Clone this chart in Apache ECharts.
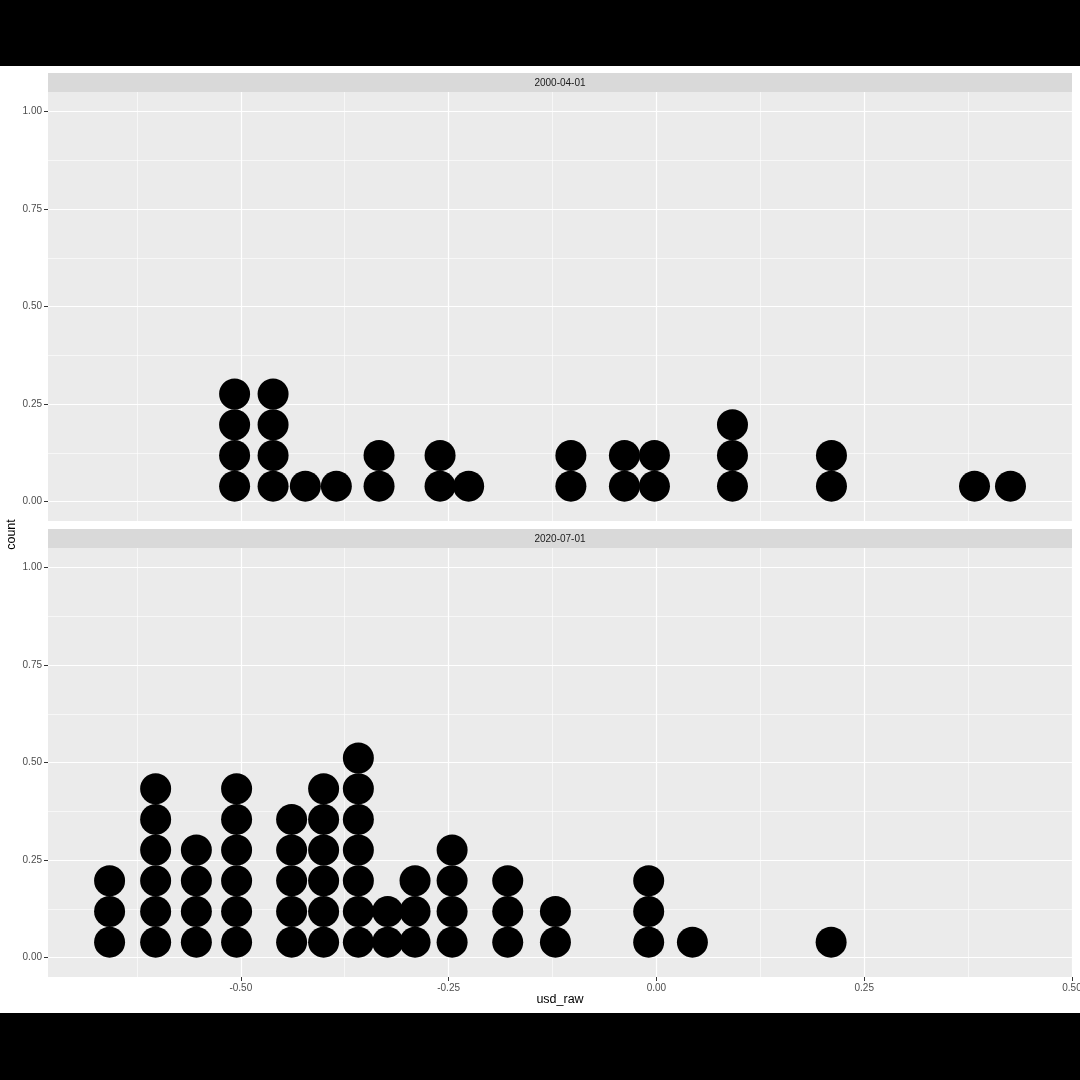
<!DOCTYPE html>
<html>
<head>
<meta charset="utf-8">
<script src="https://cdn.jsdelivr.net/npm/echarts@6/dist/echarts.min.js"></script>
<style>
  html, body { margin: 0; padding: 0; background: #ffffff; }
  #main { width: 1080px; height: 1080px; }
</style>
</head>
<body>
<div id="main"></div>
<script>
// facets
const panels = ['2000-04-01', '2020-07-01'];

// dot columns (bin centre on usd_raw) and how many dots sit in each
const bins2000 = [-0.5075, -0.4612, -0.4224, -0.3851, -0.3337, -0.2603, -0.2259,
                  -0.1029, -0.0385, -0.0024, 0.0915, 0.2106, 0.3827, 0.4260];
const counts2000 = [4, 4, 1, 1, 2, 2, 1, 2, 2, 2, 3, 2, 1, 1];

const bins2020 = [-0.6579, -0.6025, -0.5535, -0.5051, -0.4389, -0.4004, -0.3586, -0.3233,
                  -0.2904, -0.2458, -0.1789, -0.1215, -0.0093, 0.0433, 0.2102];
const counts2020 = [3, 6, 4, 6, 5, 6, 7, 2, 3, 4, 3, 2, 3, 1, 1];

// axis breaks
const xMajor = [-0.5, -0.25, 0, 0.25, 0.5];
const xMinor = [-0.625, -0.375, -0.125, 0.125, 0.375];
const yMajor = [0, 0.25, 0.5, 0.75, 1];
const yMinor = [0.125, 0.375, 0.625, 0.875];

const xRange = [-0.732, 0.5];
const yRange = [-0.05, 1.05];
const dotStep = 0.0787; // height of one stacked dot, in count units
const FONT = 'Liberation Sans, Arial, Helvetica, sans-serif';

function stackDots(bins, counts) {
  const out = [];
  bins.forEach(function (x, i) {
    for (let k = 0; k < counts[i]; k++) out.push([x, (k + 0.5) * dotStep]);
  });
  return out;
}

const chart = echarts.init(document.getElementById('main'), null, { renderer: 'canvas' });

const gridTops = [92, 548];
const grids = gridTops.map(function (t) {
  return { left: 48, top: t, width: 1024, height: 429, show: true,
           containLabel: false, outerBoundsMode: 'none',
           backgroundColor: '#ebebeb', borderWidth: 0 };
});

const xAxes = [], yAxes = [];
gridTops.forEach(function (t, g) {
  const isBottom = g === gridTops.length - 1;
  xAxes.push({
    type: 'value', gridIndex: g, min: xRange[0], max: xRange[1], position: 'bottom',
    axisLine: { show: false, onZero: false },
    axisTick: { show: isBottom, length: 4, customValues: xMajor,
                lineStyle: { color: '#333333', width: 1 } },
    axisLabel: { show: isBottom, customValues: xMajor, margin: 6,
                 color: '#4d4d4d', fontSize: 10, fontFamily: FONT,
                 formatter: function (v) { return v.toFixed(2); } },
    splitLine: { show: true, lineStyle: { color: '#ffffff', width: 1.2 } }
  });
  xAxes.push({
    type: 'value', gridIndex: g, min: xRange[0], max: xRange[1], position: 'top',
    axisLine: { show: false, onZero: false },
    axisTick: { show: false, customValues: xMinor },
    axisLabel: { show: false },
    splitLine: { show: true, lineStyle: { color: '#ffffff', width: 0.6 } }
  });
  yAxes.push({
    type: 'value', gridIndex: g, min: yRange[0], max: yRange[1], position: 'left',
    axisLine: { show: false, onZero: false },
    axisTick: { show: true, length: 4, customValues: yMajor,
                lineStyle: { color: '#333333', width: 1 } },
    axisLabel: { show: true, customValues: yMajor, margin: 6,
                 color: '#4d4d4d', fontSize: 10, fontFamily: FONT,
                 formatter: function (v) { return v.toFixed(2); } },
    splitLine: { show: true, lineStyle: { color: '#ffffff', width: 1.2 } }
  });
  yAxes.push({
    type: 'value', gridIndex: g, min: yRange[0], max: yRange[1], position: 'right',
    axisLine: { show: false, onZero: false },
    axisTick: { show: false, customValues: yMinor },
    axisLabel: { show: false },
    splitLine: { show: true, lineStyle: { color: '#ffffff', width: 0.6 } }
  });
});

const series = [
  { data: stackDots(bins2000, counts2000), xAxisIndex: 0, yAxisIndex: 0 },
  { data: stackDots(bins2020, counts2020), xAxisIndex: 2, yAxisIndex: 2 }
].map(function (s) {
  return Object.assign({
    type: 'scatter', symbol: 'circle', symbolSize: 31, silent: true,
    itemStyle: { color: '#000000', opacity: 1 }, z: 5
  }, s);
});

const stripTops = [73, 529];
const graphics = [
  { type: 'rect', shape: { x: 0, y: 0, width: 1080, height: 66 }, style: { fill: '#000000' } },
  { type: 'rect', shape: { x: 0, y: 1013, width: 1080, height: 67 }, style: { fill: '#000000' } },
  { type: 'text', x: 12, y: 534.5, rotation: Math.PI / 2,
    style: { text: 'count', fill: '#000000', font: '12.5px ' + FONT, align: 'center', verticalAlign: 'middle' } },
  { type: 'text', x: 560, y: 1000,
    style: { text: 'usd_raw', fill: '#000000', font: '12.5px ' + FONT, align: 'center', verticalAlign: 'middle' } }
];
stripTops.forEach(function (t, i) {
  graphics.push({ type: 'rect', shape: { x: 48, y: t, width: 1024, height: 19 }, style: { fill: '#d9d9d9' } });
  graphics.push({ type: 'text', x: 560, y: t + 9.8,
    style: { text: panels[i], fill: '#1a1a1a', font: '10px ' + FONT, align: 'center', verticalAlign: 'middle' } });
});

chart.setOption({
  backgroundColor: '#ffffff',
  animation: false,
  grid: grids,
  xAxis: xAxes,
  yAxis: yAxes,
  series: series,
  graphic: { elements: graphics }
});
</script>
</body>
</html>
